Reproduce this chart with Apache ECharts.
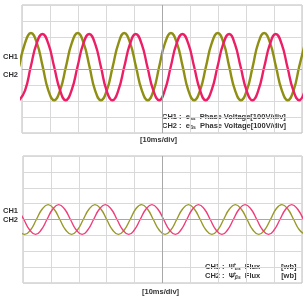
<!DOCTYPE html>
<html>
<head>
<meta charset="utf-8">
<script src="https://cdn.jsdelivr.net/npm/echarts@6/dist/echarts.min.js"></script>
<style>
  html, body { margin: 0; padding: 0; background: #fff; }
  #chart { width: 303px; height: 296px; }
</style>
</head>
<body>
<div id="chart"></div>
<script>
// 上图：相电压 (V)，时间 ms
var eAs = [
  [-1.0, 15], [1.1, 163], [3.2, 225], [5.3, 163], [7.4, 15], [9.4, -133], [11.5, -195], [13.6, -133],
  [15.7, 15], [17.8, 163], [19.9, 225], [22.0, 163], [24.1, 15], [26.1, -133], [28.2, -195], [30.3, -133],
  [32.4, 15], [34.5, 163], [36.5, 225], [38.6, 163], [40.7, 15], [42.8, -133], [44.9, -195], [47.0, -133],
  [49.0, 15], [51.1, 163], [53.2, 225], [55.3, 163], [57.4, 15], [59.4, -133], [61.5, -195], [63.6, -133],
  [65.7, 15], [67.8, 163], [69.9, 225], [72.0, 163], [74.0, 15], [76.1, -133], [78.2, -195], [80.3, -133],
  [82.4, 15], [84.4, 163], [86.5, 225], [88.6, 163], [90.7, 15], [92.8, -133], [94.9, -195], [97.0, -133],
  [99.0, 15], [101.1, 163]
];
var eBs = [
  [-1.0, -195], [1.1, -134], [3.1, 12], [5.2, 158], [7.3, 219], [9.4, 158], [11.5, 12], [13.6, -134],
  [15.6, -195], [17.7, -134], [19.8, 12], [21.9, 158], [24.0, 219], [26.1, 158], [28.2, 12], [30.2, -134],
  [32.3, -195], [34.4, -134], [36.5, 12], [38.6, 158], [40.6, 219], [42.7, 158], [44.8, 12], [46.9, -134],
  [49.0, -195], [51.0, -134], [53.1, 12], [55.2, 158], [57.3, 219], [59.4, 158], [61.5, 12], [63.6, -134],
  [65.6, -195], [67.7, -134], [69.8, 12], [71.9, 158], [74.0, 219], [76.0, 158], [78.1, 12], [80.2, -134],
  [82.3, -195], [84.4, -134], [86.5, 12], [88.6, 158], [90.6, 219], [92.7, 158], [94.8, 12], [96.9, -134],
  [99.0, -195], [101.0, -134]
];
// 下图：磁链 (div)
var fluxA = [
  [-1.5, -0.66], [0.6, -0.94], [2.7, -0.66], [4.8, 0], [6.9, 0.66], [9.0, 0.94], [11.1, 0.66], [13.2, 0],
  [15.3, -0.66], [17.4, -0.94], [19.5, -0.66], [21.6, 0], [23.7, 0.66], [25.8, 0.94], [27.9, 0.66], [30.0, 0],
  [32.1, -0.66], [34.2, -0.94], [36.3, -0.66], [38.4, 0], [40.4, 0.66], [42.5, 0.94], [44.6, 0.66], [46.7, 0],
  [48.8, -0.66], [50.9, -0.94], [53.0, -0.66], [55.1, 0], [57.2, 0.66], [59.3, 0.94], [61.4, 0.66], [63.5, 0],
  [65.6, -0.66], [67.7, -0.94], [69.8, -0.66], [71.9, 0], [74.0, 0.66], [76.1, 0.94], [78.2, 0.66], [80.3, 0],
  [82.4, -0.66], [84.5, -0.94], [86.6, -0.66], [88.7, 0], [90.7, 0.66], [92.8, 0.94], [94.9, 0.66], [97.0, 0],
  [99.1, -0.66], [101.2, -0.94]
];
var fluxB = [
  [-1.8, 0.66], [0.3, 0], [2.4, -0.66], [4.5, -0.94], [6.5, -0.66], [8.6, 0], [10.7, 0.66], [12.8, 0.94],
  [14.9, 0.66], [17.0, 0], [19.1, -0.66], [21.2, -0.94], [23.2, -0.66], [25.3, 0], [27.4, 0.66], [29.5, 0.94],
  [31.6, 0.66], [33.7, 0], [35.8, -0.66], [37.9, -0.94], [39.9, -0.66], [42.0, 0], [44.1, 0.66], [46.2, 0.94],
  [48.3, 0.66], [50.4, 0], [52.5, -0.66], [54.6, -0.94], [56.6, -0.66], [58.7, 0], [60.8, 0.66], [62.9, 0.94],
  [65.0, 0.66], [67.1, 0], [69.2, -0.66], [71.3, -0.94], [73.3, -0.66], [75.4, 0], [77.5, 0.66], [79.6, 0.94],
  [81.7, 0.66], [83.8, 0], [85.9, -0.66], [88.0, -0.94], [90.0, -0.66], [92.1, 0], [94.2, 0.66], [96.3, 0.94],
  [98.4, 0.66], [100.5, 0]
];

var olive = "#8f8f14";
var pink = "#ec1f66";
var font = "Liberation Sans";

function xAx(gi) {
  return {
    gridIndex: gi, type: "value", min: 0, max: 100, interval: 10,
    axisLine: { show: false }, axisTick: { show: false }, axisLabel: { show: false },
    splitLine: { show: true, lineStyle: { color: "#d9d9d9", width: 1 } }
  };
}
function yAx(gi, lim) {
  return {
    gridIndex: gi, type: "value", min: -lim, max: lim, interval: lim / 4,
    axisLine: { show: false }, axisTick: { show: false }, axisLabel: { show: false },
    splitLine: { show: true, lineStyle: { color: "#d9d9d9", width: 1 } }
  };
}
function centerLines() {
  return {
    silent: true, symbol: "none", label: { show: false },
    lineStyle: { color: "#a8a8a8", type: "solid", width: 1 },
    data: [{ xAxis: 50 }, { yAxis: 0 }]
  };
}
function line(name, data, color, gi, w) {
  return {
    type: "line", name: name, data: data, xAxisIndex: gi, yAxisIndex: gi,
    smooth: 0.5, symbol: "none", animation: false,
    lineStyle: { color: color, width: w }
  };
}

var myChart = echarts.init(document.getElementById("chart"), null, { renderer: "canvas" });
var txt = { fontFamily: font, fontWeight: "bold", fontSize: 7.5, fill: "#333" };
var rich = {
  b: { fontFamily: font, fontWeight: "bold", fontSize: 7.5, color: "#333" },
  s: { fontFamily: font, fontWeight: "bold", fontSize: 5, color: "#333", verticalAlign: "bottom", padding: [3, 0, 0, 0] },
  si: { fontFamily: font, fontWeight: "bold", fontStyle: "italic", fontSize: 5, color: "#333", verticalAlign: "bottom", padding: [3, 0, 0, 0] }
};
function t(x, y, s) {
  return { type: "text", left: x, top: y, style: Object.assign({ text: s }, txt) };
}
function r(x, y, s) {
  return { type: "text", left: x, top: y, style: { text: s, rich: rich, font: "bold 7.5px " + font, fill: "#333" } };
}

var option = {
  animation: false,
  grid: [
    { left: 22, top: 5, width: 280, height: 128, show: true, borderColor: "#bdbdbd", borderWidth: 1 },
    { left: 23, top: 156, width: 279, height: 127, show: true, borderColor: "#bdbdbd", borderWidth: 1 }
  ],
  xAxis: [xAx(0), xAx(1)],
  yAxis: [yAx(0, 400), yAx(1, 4)],
  series: [
    Object.assign(line("e_as", eAs, olive, 0, 2.4), { markLine: centerLines() }),
    line("e_bs", eBs, pink, 0, 2.4),
    Object.assign(line("flux_a", fluxA, "#99992a", 1, 1.4), { markLine: centerLines() }),
    line("flux_b", fluxB, "#ef3d7a", 1, 1.4)
  ],
  graphic: [
    t(3, 53, "CH1"), t(3, 71, "CH2"),
    r(162, 113, "{b|CH1 :  e}{s|as}{b|  Phase Voltage[100V/div]}"),
    r(162, 122, "{b|CH2 :  e}{s|βs}{b|  Phase Voltage[100V/div]}"),
    t(140, 136, "[10ms/div]"),
    t(3, 207, "CH1"), t(3, 216, "CH2"),
    r(205, 263, "{b|CH1 :  Ψ̂}{si|αs}{b|  Flux          [wb]}"),
    r(205, 272, "{b|CH2 :  Ψ̂}{si|βs}{b|  Flux          [wb]}"),
    t(142, 288, "[10ms/div]")
  ]
};
myChart.setOption(option);
</script>
</body>
</html>
